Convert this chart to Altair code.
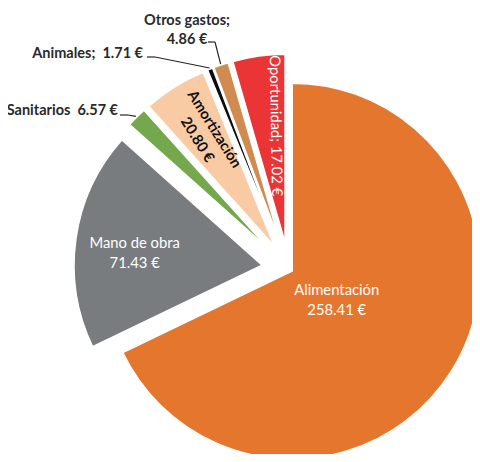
import altair as alt
import pandas as pd

# ---- data ----
categories = ["Alimentación", "Mano de obra", "Sanitarios", "Amortización",
              "Animales", "Otros gastos", "Oportunidad"]
values = [258.41, 71.43, 6.57, 20.80, 1.71, 4.86, 17.02]
separators = ["\n", "\n", "\u00a0 ", "\n", ";\u00a0 ", ";\n", "; "]

# ---- styles / layout ----
colors = ["#E5762E", "#787C7E", "#74A84D", "#F9CBA4", "#0D0D0D", "#D18A4F", "#EA3436"]
explode = [4, 27, 27, 27, 27, 27, 27]
CX, CY, R = 280.8, 261.0, 188

inside = {  # rho, turn (deg), text angle, fill, kind
    "Alimentación": (53, 0.7, 0, "white", "in2"),
    "Mano de obra": (128, -2.6, 0, "white", "in2"),
    "Amortización": (131, 0.7, 58, "#111111", "in2b"),
    "Oportunidad": (117, 3.1, 89, "white", "in1"),
}
outside = {  # text x, y, leader start x, y, elbow x, y
    "Otros gastos": (179, 21.5, 200, 34, 207, 34),
    "Animales": (135, 46, 139, 49, 147, 49),
    "Sanitarios": (110, 103, 112, 107, 120, 107),
}

rows = []
for i, (c, v) in enumerate(zip(categories, values)):
    r = dict(category=c, value=v, order=i, color=colors[i], explode=explode[i],
             label=f"{c}{separators[i]}{v:.2f} €")
    if c in inside:
        rho, turn, ang, fill, kind = inside[c]
        r.update(kind=kind, rho=rho, turn=turn, tangle=ang, tfill=fill)
    if c in outside:
        tx, ty, sx, sy, ex, ey = outside[c]
        r.update(kind="out_c" if c == "Otros gastos" else "out_r",
                 tx=tx, ty=ty, sx=sx, sy=sy, ex=ex, ey=ey)
    rows.append(r)
df = pd.DataFrame(rows)

base = alt.Chart(df).transform_joinaggregate(
    total="sum(value)"
).transform_window(
    cum="sum(value)", sort=[alt.SortField("order")]
).transform_calculate(
    a0="2*PI*(datum.cum - datum.value)/datum.total",
    a1="2*PI*datum.cum/datum.total",
    mid="(datum.a0 + datum.a1)/2",
    cx=f"{CX} + datum.explode*sin(datum.mid)",
    cy=f"{CY} - datum.explode*cos(datum.mid)",
    px=f"datum.cx + {R + 1}*sin(datum.mid)",
    py=f"datum.cy - {R + 1}*cos(datum.mid)",
)

X = lambda f: alt.X(f, scale=None, axis=None)
Y = lambda f: alt.Y(f, scale=None, axis=None)

arcs = base.mark_arc(radius=R, stroke="white", strokeWidth=1.5).encode(
    theta=alt.Theta("a0:Q", scale=None),
    theta2="a1:Q",
    x=X("cx:Q"), y=Y("cy:Q"),
    color=alt.Color("color:N", scale=None),
)

font = "Lato"


def inside_layer(kind, weight, dy):
    return base.transform_filter(f"datum.kind == '{kind}'").transform_calculate(
        lm="datum.mid + datum.turn*PI/180",
        lx="datum.cx + datum.rho*sin(datum.lm)",
        ly="datum.cy - datum.rho*cos(datum.lm)",
    ).mark_text(font=font, fontSize=14.8, fontWeight=weight, lineBreak="\n",
                lineHeight=20, align="center", baseline="middle", dy=dy).encode(
        x=X("lx:Q"), y=Y("ly:Q"), text="label:N",
        angle=alt.Angle("tangle:Q", scale=None),
        fill=alt.Fill("tfill:N", scale=None),
    )


in2 = inside_layer("in2", "normal", -9)
in2b = inside_layer("in2b", "bold", -9)
in1 = inside_layer("in1", "normal", 0)

out_c = base.transform_filter("datum.kind == 'out_c'").mark_text(
    font=font, fontSize=14.5, fontWeight="bold", lineBreak="\n", lineHeight=19,
    align="center", baseline="middle", color="#2a2a2a", dy=-9).encode(
    x=X("tx:Q"), y=Y("ty:Q"), text="label:N")
out_r = base.transform_filter("datum.kind == 'out_r'").mark_text(
    font=font, fontSize=14.5, fontWeight="bold", align="right", baseline="middle",
    color="#2a2a2a").encode(
    x=X("tx:Q"), y=Y("ty:Q"), text="label:N")

has_leader = "datum.kind == 'out_c' || datum.kind == 'out_r'"
lead1 = base.transform_filter(has_leader).mark_rule(
    color="#262626", strokeWidth=1.2).encode(
    x=X("sx:Q"), y=Y("sy:Q"), x2="ex:Q", y2="ey:Q")
lead2 = base.transform_filter(has_leader).mark_rule(
    color="#262626", strokeWidth=1.2).encode(
    x=X("ex:Q"), y=Y("ey:Q"), x2="px:Q", y2="py:Q")

chart = alt.layer(arcs, lead1, lead2, in2, in2b, in1, out_c, out_r).properties(
    width=464, height=446, padding=0, autosize="none"
).configure_view(stroke=None)

chart.save("out.html", embed_options={"renderer": "svg", "actions": False})
